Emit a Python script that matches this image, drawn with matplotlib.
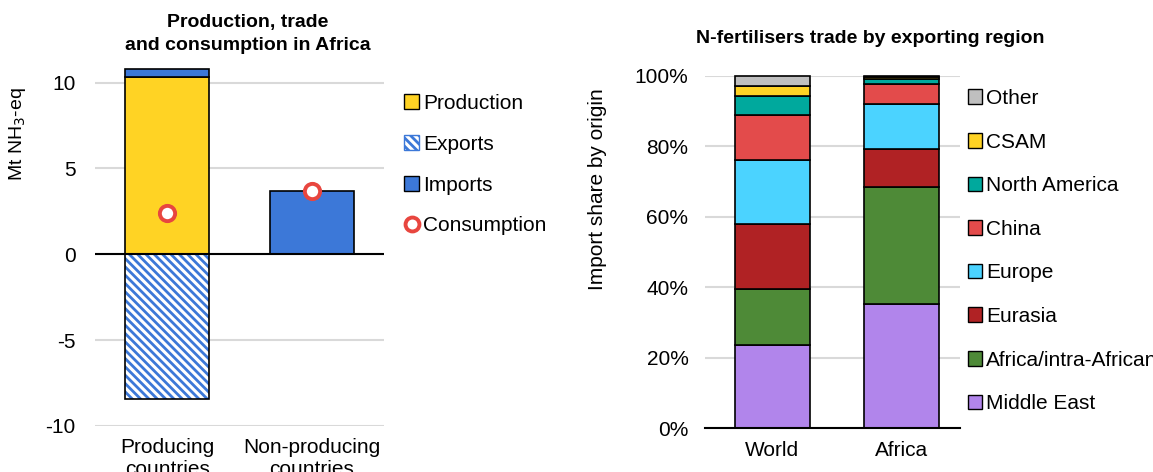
import numpy as np
import matplotlib
matplotlib.use("Agg")
import matplotlib.pyplot as plt
from matplotlib.patches import Patch
from matplotlib.lines import Line2D

plt.rcParams['font.family'] = ['Liberation Sans', 'DejaVu Sans']
plt.rcParams['hatch.linewidth'] = 2.0
plt.rcParams['axes.unicode_minus'] = False

# Left chart data (Mt NH3-eq)
groups = ["Producing\ncountries", "Non-producing\ncountries"]
production = [10.3, 0.0]
imports = [0.5, 3.7]
exports = [-8.45, 0.0]
consumption = [2.4, 3.7]

# Right chart data (import share by origin)
regions = ["World", "Africa"]
origins = ["Middle East", "Africa/intra-African", "Eurasia", "Europe",
           "China", "North America", "CSAM", "Other"]
shares = {
    "Middle East":          [0.237, 0.351],
    "Africa/intra-African": [0.159, 0.333],
    "Eurasia":              [0.183, 0.110],
    "Europe":               [0.181, 0.126],
    "China":                [0.130, 0.056],
    "North America":        [0.054, 0.015],
    "CSAM":                 [0.028, 0.005],
    "Other":                [0.028, 0.004],
}
colors = {
    "Middle East": "#b185eb",
    "Africa/intra-African": "#4e8a37",
    "Eurasia": "#b02224",
    "Europe": "#4bd3ff",
    "China": "#e34b4b",
    "North America": "#00a99d",
    "CSAM": "#ffd324",
    "Other": "#bfbfbf",
}

yellow = "#ffd324"
blue = "#3c78d8"
red = "#e8463f"
grid_c = "#d9d9d9"
fs = 15

fig = plt.figure(figsize=(11.53, 4.72), dpi=100)

# ---- left chart ----
ax1 = fig.add_axes([0.0824, 0.0975, 0.2506, 0.7639])
x = np.arange(len(groups))
w = 0.58
ax1.bar(x, production, w, color=yellow, edgecolor="black", lw=1.2, zorder=3)
ax1.bar(x, imports, w, bottom=production, color=blue, edgecolor="black", lw=1.2, zorder=3)
ax1.bar(x, exports, w, color="white", edgecolor=blue, hatch="\\\\\\\\", lw=0, zorder=3)
ax1.bar(x, exports, w, color="none", edgecolor="black", lw=1.2, zorder=4)
ax1.plot(x, consumption, "o", ms=11, mfc="white", mec=red, mew=2.8, zorder=5)
ax1.axhline(0, color="black", lw=1.5, zorder=4)
ax1.set_xlim(-0.5, 1.5)
ax1.set_ylim(-10, 11)
ax1.set_yticks([-10, -5, 0, 5, 10])
ax1.yaxis.grid(True, color=grid_c, lw=1.5, zorder=0)
ax1.set_axisbelow(True)
ax1.set_xticks(x)
ax1.set_xticklabels(groups, fontsize=fs, linespacing=1.2)
ax1.tick_params(axis="y", labelsize=fs, length=0, pad=14)
ax1.tick_params(axis="x", length=0, pad=9)
for s in ax1.spines.values():
    s.set_visible(False)
ax1.set_ylabel("Mt NH$_3$-eq", fontsize=fs - 1)
ax1.yaxis.set_label_coords(-0.232, 0.81)

h1 = [Patch(facecolor=yellow, edgecolor="black", label="Production"),
      Patch(facecolor="white", edgecolor=blue, hatch="\\\\\\\\", label="Exports"),
      Patch(facecolor=blue, edgecolor="black", label="Imports"),
      Line2D([], [], marker="o", ls="none", ms=10, mfc="white", mec=red, mew=2.8,
             label="Consumption")]
fig.legend(handles=h1, loc="upper left", bbox_to_anchor=(0.3435, 0.819), frameon=False,
           fontsize=fs, handlelength=0.7, handleheight=0.7, handletextpad=0.2,
           labelspacing=1.05, borderaxespad=0)
fig.text(0.215, 0.928, "Production, trade\nand consumption in Africa", ha="center",
         va="center", fontsize=14, fontweight="bold", linespacing=1.45)

# ---- right chart ----
ax2 = fig.add_axes([0.6115, 0.0932, 0.2211, 0.7458])
x2 = np.arange(len(regions))
bottom = np.zeros(len(regions))
for o in origins:
    v = np.array(shares[o])
    ax2.bar(x2, v, w, bottom=bottom, color=colors[o], edgecolor="black", lw=1.2,
            zorder=3, label=o, clip_on=False)
    bottom += v
ax2.set_xlim(-0.52, 1.45)
ax2.set_ylim(0, 1.0)
ax2.set_yticks(np.arange(0, 1.01, 0.2))
ax2.set_yticklabels([f"{int(round(t * 100))}%" for t in np.arange(0, 1.01, 0.2)])
ax2.yaxis.grid(True, color=grid_c, lw=1.5, zorder=0)
ax2.set_axisbelow(True)
ax2.axhline(0, color="black", lw=1.5, zorder=4, clip_on=False)
ax2.set_xticks(x2)
ax2.set_xticklabels(regions, fontsize=fs)
ax2.tick_params(axis="y", labelsize=fs, length=0, pad=12)
ax2.tick_params(axis="x", length=0, pad=9)
for s in ax2.spines.values():
    s.set_visible(False)
ax2.set_ylabel("Import share by origin", fontsize=fs)
ax2.yaxis.set_label_coords(-0.384, 0.68)

h2 = [Patch(facecolor=colors[o], edgecolor="black", label=o) for o in origins[::-1]]
fig.legend(handles=h2, loc="upper left", bbox_to_anchor=(0.832, 0.829), frameon=False,
           fontsize=fs, handlelength=0.7, handleheight=0.7, handletextpad=0.2,
           labelspacing=1.18, borderaxespad=0)
fig.text(0.755, 0.918, "N-fertilisers trade by exporting region", ha="center",
         va="center", fontsize=14, fontweight="bold")

fig.savefig("out.png", dpi=100)
